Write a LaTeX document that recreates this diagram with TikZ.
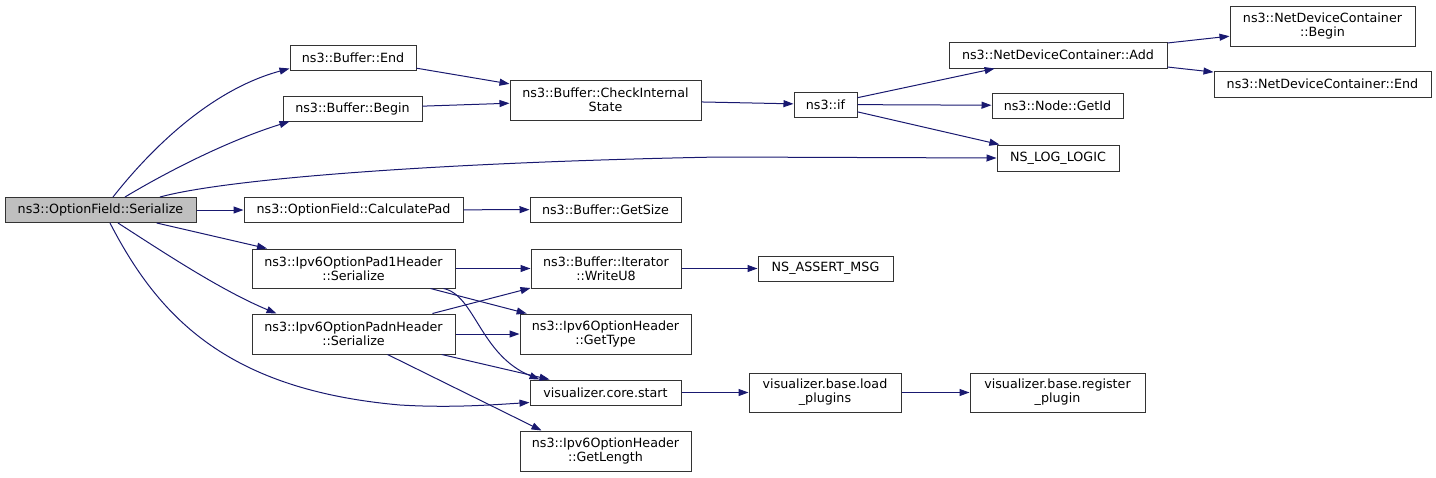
\documentclass[tikz,border=0pt]{standalone}
\usepackage{fontspec}
\setmainfont{DejaVu Sans}
\usetikzlibrary{arrows.meta,calc}
\definecolor{edgec}{RGB}{25,25,112}
\definecolor{rootfill}{RGB}{191,191,191}
\begin{document}
\begin{tikzpicture}[x=1pt,y=-1pt,
 fn/.style={draw=black!80, line width=1pt, fill=white, inner sep=0pt, align=center,
   font=\fontsize{12.7}{14}\selectfont, text=black},
 root/.style={fn, fill=rootfill},
 call/.style={draw=edgec, line width=1pt, -{Triangle[length=10pt,width=7pt]}},
]
\useasboundingbox (0,0) rectangle (1436,477);

\node[root, minimum width=191pt, minimum height=25pt] (ser) at (100.5,210) {ns3::OptionField::Serialize};
\node[fn, minimum width=126pt, minimum height=25pt] (bend) at (353,57.5) {ns3::Buffer::End};
\node[fn, minimum width=139pt, minimum height=25pt] (bbegin) at (352.5,108.5) {ns3::Buffer::Begin};
\node[fn, minimum width=219pt, minimum height=25pt] (calcpad) at (353.5,210) {ns3::OptionField::CalculatePad};
\node[fn, minimum width=203pt, minimum height=39pt] (pad1) at (353.5,268.5) {ns3::Ipv6OptionPad1Header\\::Serialize};
\node[fn, minimum width=203pt, minimum height=40pt] (padn) at (353.5,334) {ns3::Ipv6OptionPadnHeader\\::Serialize};
\node[fn, minimum width=191pt, minimum height=40pt] (check) at (605.5,100) {ns3::Buffer::CheckInternal\\State};
\node[fn, minimum width=151pt, minimum height=25pt] (getsize) at (605.5,209.5) {ns3::Buffer::GetSize};
\node[fn, minimum width=150pt, minimum height=39pt] (writeu8) at (606,268.5) {ns3::Buffer::Iterator\\::WriteU8};
\node[fn, minimum width=171pt, minimum height=40pt] (gettype) at (605.5,334) {ns3::Ipv6OptionHeader\\::GetType};
\node[fn, minimum width=151pt, minimum height=25pt] (start) at (605.5,392.5) {visualizer.core.start};
\node[fn, minimum width=171pt, minimum height=40pt] (getlength) at (605.5,451) {ns3::Ipv6OptionHeader\\::GetLength};
\node[fn, minimum width=63pt, minimum height=25pt] (nsif) at (825.5,104.5) {ns3::if};
\node[fn, minimum width=135pt, minimum height=25pt] (assert) at (825.5,268.5) {NS\_ASSERT\_MSG};
\node[fn, minimum width=152pt, minimum height=39pt] (load) at (825,392.5) {visualizer.base.load\\\_plugins};
\node[fn, minimum width=218pt, minimum height=26pt] (add) at (1058,55) {ns3::NetDeviceContainer::Add};
\node[fn, minimum width=185pt, minimum height=40pt] (ndcbegin) at (1322.5,26) {ns3::NetDeviceContainer\\::Begin};
\node[fn, minimum width=217pt, minimum height=26pt] (ndcend) at (1322.5,84) {ns3::NetDeviceContainer::End};
\node[fn, minimum width=131pt, minimum height=25pt] (getid) at (1057.5,105.5) {ns3::Node::GetId};
\node[fn, minimum width=122pt, minimum height=26pt] (loglogic) at (1058,158) {NS\_LOG\_LOGIC};
\node[fn, minimum width=175pt, minimum height=39pt] (register) at (1057.5,392.5) {visualizer.base.register\\\_plugin};

% edges from root
\draw[call] ($(ser.north)+(12.5,0)$) .. controls (150,150) and (210,90) .. ($(bend.south west)+(0,-2)$);
\draw[call] ($(ser.north)+(24.5,0)$) .. controls (170,170) and (230,140) .. ($(bbegin.south west)+(7,0)$);
\draw[call] ($(ser.north)+(59.5,0)$) .. controls (230,178) and (450,162) .. ($(loglogic.west)+(-277,-1)$) -- (loglogic.west);
\draw[call] (ser) -- (calcpad);
\draw[call] (ser) -- (pad1);
\draw[call] ($(ser.south)+(17.5,0)$) .. controls (160,250) and (220,290) .. ($(padn.north west)+(25,0)$);
\draw[call] ($(ser.south)+(9.5,0)$) .. controls (160,320) and (230,390) .. (400,405) .. controls (450,408) and (490,405) .. ($(start.south west)+(0,-3)$);

% upper chain
\draw[call] (bend) -- (check);
\draw[call] (bbegin) -- (check);
\draw[call] (check) -- (nsif);
\draw[call] (nsif) -- (add);
\draw[call] (nsif) -- (getid);
\draw[call] (nsif) -- (loglogic);
\draw[call] (add) -- (ndcbegin);
\draw[call] (add) -- (ndcend);
\draw[call] (calcpad) -- (getsize);

% lower
\draw[call] (pad1) -- (writeu8);
\draw[call] (pad1) -- (gettype);
\draw[call] ($(pad1.south east)+(-12,0)$) .. controls (475,295) and (480,355) .. ($(start.north west)+(10,0)$);
\draw[call] (padn) -- (writeu8);
\draw[call] (padn) -- (gettype);
\draw[call] (padn) -- (start);
\draw[call] ($(padn.south)+(34,0)$) -- ($(getlength.north west)+(22,0)$);
\draw[call] (writeu8) -- (assert);
\draw[call] (start) -- (load);
\draw[call] (load) -- (register);
\end{tikzpicture}
\end{document}
